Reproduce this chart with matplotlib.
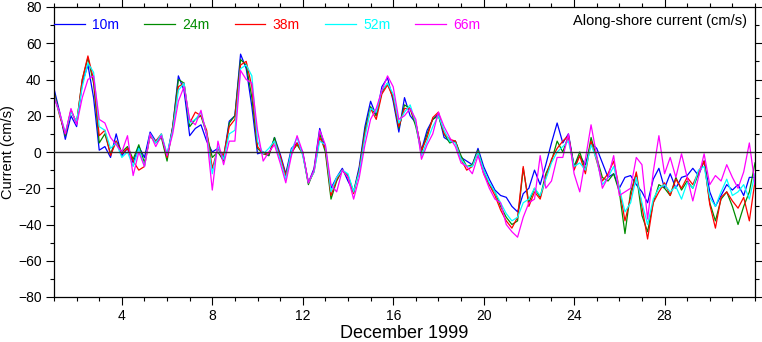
import numpy as np
import matplotlib.pyplot as plt
from matplotlib.ticker import MultipleLocator

plt.rcParams['font.family'] = ['Liberation Sans', 'DejaVu Sans']

# series cada 6 horas a partir del 1 de diciembre (dia 1.0)
t0 = 1.0
dt = 0.25

prof = ['10m', '24m', '38m', '52m', '66m']
colores = ['#0000ff', '#008c00', '#ff0000', '#00ffff', '#ff00ff']

c10 = [35, 22, 7, 20,  14, 38, 48, 30,  1, 3, -3, 10,  -2, 2, -6, 3,
       -3, 11, 6, 9,  -2, 14, 42, 34,  9, 13, 15, 6,  0, 2, -3, 17,
       20, 54, 46, 25,  -1, 0, -2, 8,  -1, -12, 2, 5,  0, -17, -9, 13,
       2, -20, -14, -9,  -16, -22, -8, 14,  28, 20, 36, 41,  28, 11, 30, 20,
       16, 1, 12, 18,  21, 8, 6, 6,  -3, -5, -7, 2,  -8, -15, -21, -24,
       -25, -30, -33, -23,  -20, -10, -18, -7,  5, 16, 5, 10,  -8, -2, -7, 5,
       2, -6, -14, -12,  -20, -14, -13, -18,  -22, -28, -15, -9,  -20, -12, -20, -14,
       -13, -9, -13, -5,  -22, -30, -24, -18,  -21, -18, -24, -14,  -14]

c24 = [33, 21, 9, 23,  16, 40, 52, 38,  5, 10, -1, 6,  0, 3, -4, 4,
       -6, 9, 5, 8,  -5, 14, 40, 38,  14, 18, 20, 10,  -3, 0, -5, 16,
       20, 51, 48, 30,  2, -1, -2, 8,  -3, -13, 0, 4,  -1, -18, -10, 10,
       0, -26, -16, -10,  -13, -22, -10, 12,  25, 20, 33, 38,  30, 13, 26, 24,
       14, 0, 10, 18,  20, 10, 5, 6,  -2, -8, -7, 1,  -10, -18, -22, -30,
       -36, -40, -38, -9,  -28, -20, -25, -12,  -5, 6, 0, 9,  -8, 0, -10, 8,
       -3, -14, -16, -12,  -22, -45, -22, -12,  -35, -44, -28, -18,  -20, -24, -14, -21,
       -16, -20, -12, -5,  -28, -38, -26, -22,  -30, -40, -30, -22,  -6]

c38 = [32, 20, 10, 23,  16, 40, 53, 40,  9, 12, -2, 6,  -1, 2, -5, -10,
       -8, 9, 6, 10,  -3, 13, 36, 38,  16, 22, 20, 12,  -9, 2, -2, 14,
       18, 48, 50, 36,  3, -1, -1, 6,  -2, -13, -1, 5,  -1, -17, -11, 8,
       2, -24, -15, -10,  -14, -23, -10, 10,  24, 18, 32, 37,  30, 14, 24, 24,
       16, 1, 8, 19,  22, 10, 7, 6,  -4, -10, -8, 0,  -12, -18, -24, -32,
       -38, -42, -36, -8,  -30, -22, -26, -14,  -4, 2, 6, 9,  -10, -2, -12, 6,
       -5, -16, -12, -5,  -20, -38, -25, -11,  -30, -48, -28, -22,  -17, -24, -15, -20,
       -14, -18, -11, -5,  -29, -42, -25, -22,  -27, -31, -25, -38,  -16]

c52 = [31, 21, 11, 22,  17, 36, 49, 44,  14, 12, 2, 5,  -3, 0, -8, 2,
       -8, 10, 5, 10,  -1, 12, 34, 38,  16, 18, 22, 10,  -12, 3, -4, 10,
       12, 46, 48, 42,  6, -1, 2, 6,  -4, -15, 1, 8,  -2, -17, -11, 6,
       4, -22, -14, -10,  -12, -22, -11, 8,  24, 22, 34, 38,  32, 16, 22, 26,
       16, -2, 6, 14,  20, 12, 6, 5,  -4, -8, -8, 0,  -10, -17, -22, -28,
       -34, -38, -36, -28,  -26, -20, -24, -15,  -6, 0, 3, 6,  -8, -6, -10, 4,
       -4, -18, -14, -8,  -20, -33, -28, -14,  -28, -40, -26, -20,  -18, -22, -19, -26,
       -17, -20, -10, -8,  -25, -30, -22, -15,  -24, -22, -18, -26,  -12]

c66 = [30, 22, 10, 24,  15, 30, 40, 42,  18, 16, 8, 4,  0, 9, -13, 0,
       -8, 10, 3, 9,  -2, 10, 28, 36,  18, 15, 23, 9,  -21, 6, -7, 6,
       6, 45, 40, 38,  12, -5, 0, 4,  -6, -17, -2, 9,  0, -17, -10, 12,
       4, -18, -22, -10,  -14, -26, -14, 4,  18, 24, 34, 42,  36, 18, 20, 24,
       18, -4, 4, 10,  22, 14, 8, 3,  -6, -8, -12, -2,  -12, -20, -26, -28,
       -40, -44, -47, -36,  -28, -26, -2, -20,  -16, -3, -3, 10,  -12, -22, -4, 15,
       -2, -20, -14, -2,  -24, -22, -20, -3,  -7, -37, -11, 9,  -12, -3, -14, -1,
       -14, -27, -14, -1,  -18, -13, -16, -7,  -14, -20, -11, 5,  -18]

series = [c10, c24, c38, c52, c66]
dias = t0 + dt*np.arange(len(c10))

fig = plt.figure(figsize=(7.62, 3.42), dpi=100)
ax = fig.add_axes([54/762, 1-297/342, 701/762, 290/342])

for s, p, c in zip(series, prof, colores):
    ax.plot(dias, s, color=c, lw=0.9, label=p)

ax.axhline(0, color='#303030', lw=1.0, zorder=5)

ax.set_xlim(1, 32)
ax.set_ylim(-80, 80)
ax.set_xticks(range(4, 29, 4))
ax.xaxis.set_minor_locator(MultipleLocator(1))
ax.yaxis.set_major_locator(MultipleLocator(20))
ax.yaxis.set_minor_locator(MultipleLocator(10))
ax.tick_params(which='both', direction='out', top=True, right=True, labelsize=10, pad=3)
ax.tick_params(which='major', length=6, width=0.8)
ax.tick_params(which='minor', length=3, width=0.8)
for sp in ax.spines.values():
    sp.set_linewidth(0.9)

ax.set_xlabel('December 1999', fontsize=13, labelpad=1)
ax.set_ylabel('Current (cm/s)', fontsize=10.5, labelpad=2)

leg = ax.legend(loc='center left', bbox_to_anchor=(0, 1-18/290), ncol=5, frameon=False,
                fontsize=10, handlelength=2.2, handletextpad=0.55, columnspacing=1.8,
                borderpad=0, borderaxespad=0, labelcolor='linecolor')
ax.text(0.9886, 1-14/290, 'Along-shore current (cm/s)', transform=ax.transAxes,
        ha='right', va='center', fontsize=10.5)

fig.savefig('out.png', dpi=100)
